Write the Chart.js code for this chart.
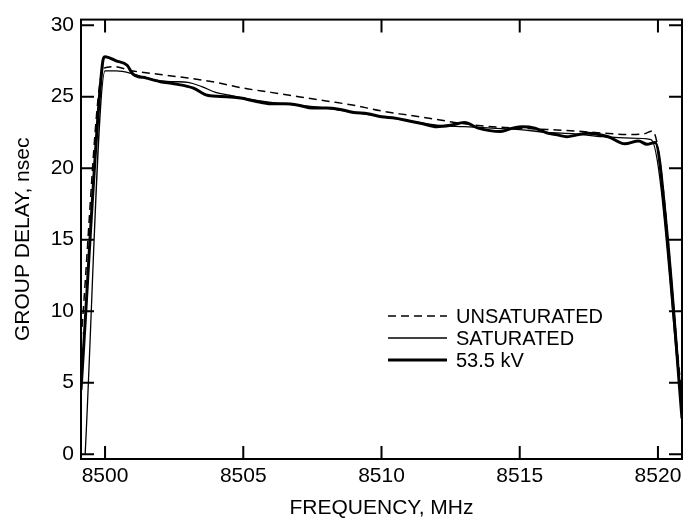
<!DOCTYPE html>
<html>
<head>
<meta charset="utf-8">
<script src="https://cdn.jsdelivr.net/npm/chart.js@4/dist/chart.umd.min.js"></script>
<style>
html, body { margin: 0; padding: 0; background: #fff; }
#wrap { width: 700px; height: 524px; }
</style>
</head>
<body>
<div id="wrap"><canvas id="chart"></canvas></div>
<script>
// values: frequency in MHz, group delay in nsec
const unsatFreq = [8499.13, 8499.95, 8500.3, 8501, 8502, 8503, 8504, 8505, 8506, 8507, 8508, 8509, 8510, 8511, 8512, 8513, 8514, 8515, 8516, 8517, 8518, 8519, 8519.5, 8519.8, 8520.87];
const unsatDelay = [8, 27.0, 27.1, 26.8, 26.55, 26.3, 26.0, 25.6, 25.3, 25.0, 24.7, 24.4, 24.0, 23.7, 23.4, 23.1, 22.9, 22.8, 22.7, 22.6, 22.45, 22.35, 22.4, 22.6, 4];

const satFreq = [8499.28, 8500.0, 8500.4, 8501, 8501.5, 8502, 8502.5, 8503, 8503.5, 8504, 8504.5, 8505, 8506, 8507, 8508, 8509, 8510, 8511, 8512, 8513, 8514, 8515, 8516, 8517, 8518, 8519, 8519.75, 8520.87];
const satDelay = [0, 26.8, 26.8, 26.6, 26.3, 26.1, 26.05, 26.0, 25.7, 25.3, 25.1, 24.9, 24.6, 24.4, 24.2, 23.9, 23.6, 23.3, 23.0, 22.9, 22.8, 22.7, 22.5, 22.4, 22.2, 22.1, 22.0, 3];

const kvFreq = [8499.13, 8499.9, 8500.0, 8500.4, 8500.8, 8501, 8501.5, 8502, 8502.5, 8503.2, 8503.7, 8504.4, 8504.9, 8505.4, 8506, 8506.5, 8507, 8507.5, 8508, 8508.5, 8509, 8509.5, 8510, 8510.5, 8511, 8511.5, 8512, 8512.5, 8513, 8513.5, 8514.3, 8514.75, 8515.1, 8515.55, 8516, 8516.35, 8516.7, 8517.45, 8518.2, 8518.8, 8519.3, 8519.6, 8519.9, 8520.3, 8520.87];
const kvDelay = [4.5, 27.2, 27.8, 27.5, 27.2, 26.6, 26.3, 26.05, 25.9, 25.6, 25.1, 25.0, 24.9, 24.7, 24.5, 24.5, 24.4, 24.2, 24.2, 24.1, 23.9, 23.8, 23.6, 23.5, 23.3, 23.1, 22.9, 23.0, 23.2, 22.8, 22.56, 22.8, 22.9, 22.8, 22.45, 22.33, 22.2, 22.45, 22.2, 21.7, 21.9, 21.67, 21.8, 16, 2.5];

const seriesNames = ['UNSATURATED', 'SATURATED', '53.5 kV'];
const xTicks = [8500, 8505, 8510, 8515, 8520];
const yTicks = [0, 5, 10, 15, 20, 25, 30];

const FONT = 'Liberation Sans, Arial, Helvetica, sans-serif';

function toPoints(xs, ys) {
    return xs.map((x, i) => ({ x: x, y: ys[i] }));
}

// box round the plot, inward ticks on all four sides, and the legend
const framePlugin = {
    id: 'frame',
    afterDraw(chart) {
        const ctx = chart.ctx;
        const a = chart.chartArea;
        const xs = chart.scales.x;
        const ys = chart.scales.y;
        const len = 13;
        ctx.save();
        ctx.strokeStyle = '#000';
        ctx.lineWidth = 2;
        ctx.strokeRect(a.left, a.top, a.right - a.left, a.bottom - a.top);
        ctx.beginPath();
        xTicks.forEach(v => {
            const px = xs.getPixelForValue(v);
            ctx.moveTo(px, a.bottom); ctx.lineTo(px, a.bottom - len);
            ctx.moveTo(px, a.top); ctx.lineTo(px, a.top + len);
        });
        yTicks.forEach(v => {
            const py = ys.getPixelForValue(v);
            ctx.moveTo(a.left, py); ctx.lineTo(a.left + len, py);
            ctx.moveTo(a.right, py); ctx.lineTo(a.right - len, py);
        });
        ctx.stroke();

        // legend
        const lx = 388, ly = 316, gap = 22;
        ctx.font = '20px ' + FONT;
        ctx.fillStyle = '#000';
        ctx.textBaseline = 'middle';
        chart.data.datasets.forEach((ds, i) => {
            const y = ly + i * gap;
            ctx.beginPath();
            ctx.lineWidth = ds.borderWidth;
            ctx.setLineDash(ds.borderDash || []);
            ctx.moveTo(lx, y);
            ctx.lineTo(lx + 59, y);
            ctx.stroke();
            ctx.setLineDash([]);
            ctx.fillText(seriesNames[i], lx + 68, y + 1);
        });
        ctx.restore();
    }
};

new Chart(document.getElementById('chart'), {
    type: 'line',
    data: {
        datasets: [
            {
                label: seriesNames[0],
                data: toPoints(unsatFreq, unsatDelay),
                borderColor: '#000',
                borderWidth: 1.5,
                borderDash: [8, 5],
                pointRadius: 0,
                cubicInterpolationMode: 'monotone'
            },
            {
                label: seriesNames[1],
                data: toPoints(satFreq, satDelay),
                borderColor: '#000',
                borderWidth: 1.3,
                pointRadius: 0,
                cubicInterpolationMode: 'monotone'
            },
            {
                label: seriesNames[2],
                data: toPoints(kvFreq, kvDelay),
                borderColor: '#000',
                borderWidth: 3,
                pointRadius: 0,
                cubicInterpolationMode: 'monotone'
            }
        ]
    },
    options: {
        responsive: true,
        maintainAspectRatio: false,
        animation: false,
        events: [],
        layout: { padding: { top: 9, right: 18, left: 0, bottom: 0 } },
        plugins: {
            legend: { display: false },
            tooltip: { enabled: false }
        },
        scales: {
            x: {
                type: 'linear',
                min: 8499.13,
                max: 8520.87,
                afterBuildTicks: s => { s.ticks = xTicks.map(v => ({ value: v })); },
                afterFit: s => { s.height = 65; },
                grid: { display: false, drawTicks: false },
                border: { display: false },
                ticks: {
                    color: '#000',
                    font: { family: FONT, size: 21 },
                    padding: 5,
                    maxRotation: 0,
                    callback: v => String(v)
                },
                title: {
                    display: true,
                    text: 'FREQUENCY, MHz',
                    color: '#000',
                    font: { family: FONT, size: 21 },
                    padding: { top: 0, bottom: 3 }
                }
            },
            y: {
                min: -0.34,
                max: 30.39,
                afterBuildTicks: s => { s.ticks = yTicks.map(v => ({ value: v })); },
                afterFit: s => { s.width = 81; },
                grid: { display: false, drawTicks: false },
                border: { display: false },
                ticks: {
                    color: '#000',
                    font: { family: FONT, size: 21 },
                    padding: 7
                },
                title: {
                    display: true,
                    text: 'GROUP DELAY, nsec',
                    color: '#000',
                    font: { family: FONT, size: 21 },
                    padding: { top: 11, bottom: 0 }
                }
            }
        }
    },
    plugins: [framePlugin]
});
</script>
</body>
</html>
